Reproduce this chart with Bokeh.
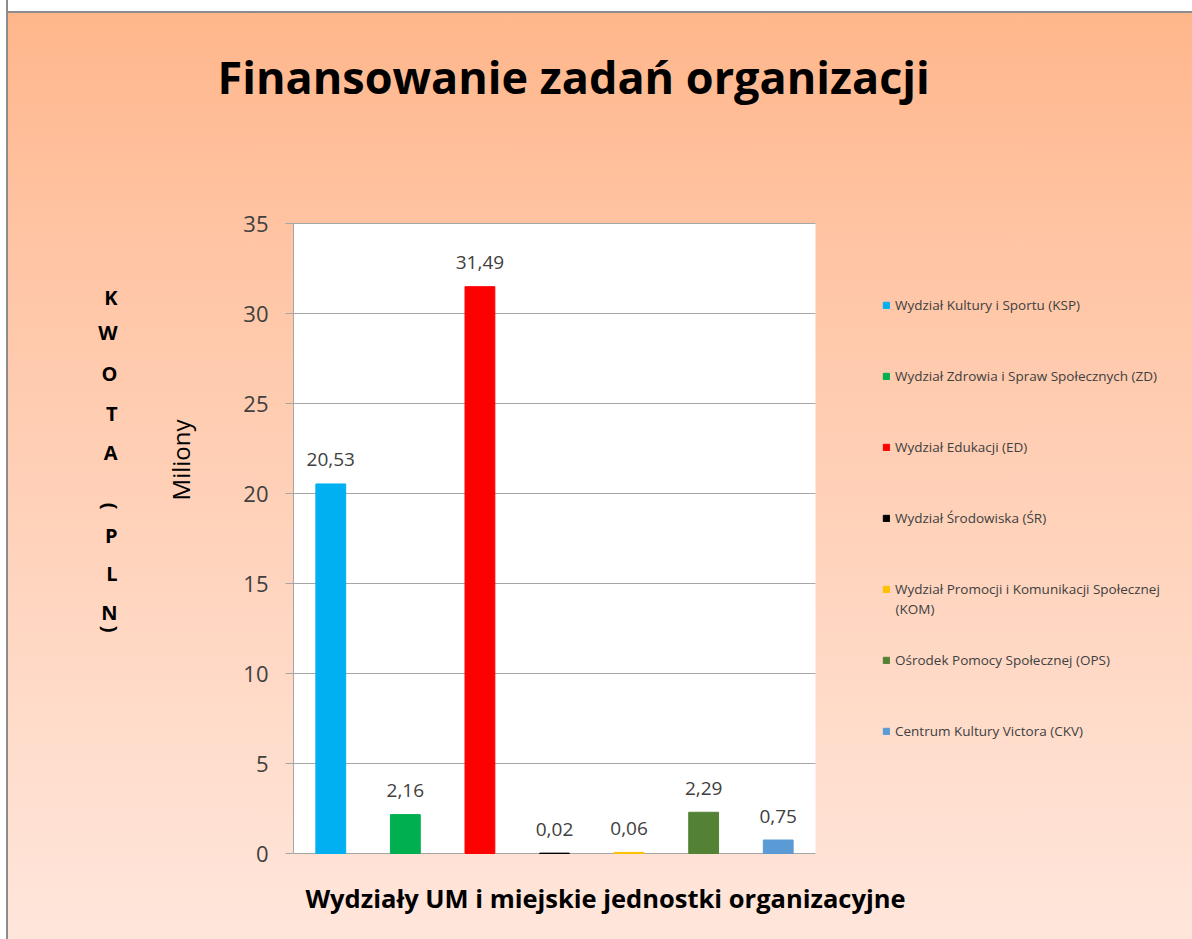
import math
from bokeh.plotting import figure
from bokeh.models import (Range1d, ColumnDataSource, LabelSet, Label, Legend, LegendItem,
                          FixedTicker, LinearAxis)
from bokeh.core.properties import value
from bokeh.embed import file_html
from bokeh.resources import INLINE

# ---------------- data ----------------
categories = [
    "Wydział Kultury i Sportu (KSP)",
    "Wydział Zdrowia i Spraw Społecznych (ZD)",
    "Wydział Edukacji (ED)",
    "Wydział Środowiska (ŚR)",
    "Wydział Promocji i Komunikacji Społecznej (KOM)",
    "Ośrodek Pomocy Społecznej (OPS)",
    "Centrum Kultury Victora (CKV)",
]
values = [20.53, 2.16, 31.49, 0.02, 0.06, 2.29, 0.75]
y_ticks = [0, 5, 10, 15, 20, 25, 30, 35]
bar_colors = ["#00B0F0", "#00B050", "#FF0000", "#000000", "#FFC000", "#548235", "#5B9BD5"]

title_text = "Finansowanie zadań organizacji"
x_title = "Wydziały UM i miejskie jednostki organizacyjne"
y_unit = "Miliony"
# "KWOTA (PLN)" written top-to-bottom (Excel stacked text)
y_title_letters = ["K", "W", "O", "T", "A", "P", "L", "N"]
y_title_brackets = ["(", ")"]

# ---------------- layout ----------------
W, H = 1192, 939
FL = 293                      # left edge of the frame (y axis)
FT = 150                      # top edge of the frame (below the title panel)
PL, PR, PT, PB = 293, 815, 223, 853   # plot area in pixels
N = len(categories)
YMAX = y_ticks[-1]
XU = (PR - PL) / N            # pixels per category
YU = (PB - PT) / YMAX         # pixels per million


def sx(px):
    return (px - FL) / XU


def sy(py):
    return (PB - py) / YU


FONT = "Open Sans"
TXT = "#404040"
GRID = "#A6A6A6"

p = figure(width=W, height=H, title=title_text, x_axis_location=None,
           x_range=Range1d(0, sx(W)), y_range=Range1d(sy(H), sy(FT)),
           output_backend="svg", toolbar_location=None,
           min_border_left=FL, min_border_right=0, min_border_top=0, min_border_bottom=0)
p.border_fill_color = None
p.background_fill_color = None
p.outline_line_color = None
p.grid.visible = False
p.styles = {
    "background": ("linear-gradient(to right, #ffffff 0px, #ffffff 6px, #8c8c8c 6px, "
                   "#8c8c8c 8px, rgba(0,0,0,0) 8px), "
                   "linear-gradient(to bottom, #ffffff 0px, #ffffff 11px, #8c8c8c 11px, "
                   "#8c8c8c 13px, #FFB68B 13px, #FFC4A3 25%, #FFE6DB 100%)"),
}
# pixel-space range for the texts placed left of the frame
p.extra_y_ranges = {"px": Range1d(H, FT)}

# chart title
p.title.align = "left"
p.title.offset = -76
p.title.standoff = 87
p.title.text_font = FONT
p.title.text_font_size = "45px"
p.title.text_font_style = "bold"
p.title.text_color = "#000000"

# white plot area, grid lines, bars
p.quad(left=[0], right=[N], bottom=[0], top=[YMAX], fill_color="white", line_color=None)
p.segment(x0=[0] * len(y_ticks), x1=[N] * len(y_ticks), y0=y_ticks, y1=y_ticks,
          line_color=GRID, line_width=1)

src = ColumnDataSource(dict(
    x=[i + 0.5 for i in range(N)],
    top=values,
    color=bar_colors,
    label=[f"{v:.2f}".replace(".", ",") for v in values],
))
bars = p.vbar(x="x", top="top", width=0.4, fill_color="color", line_color="color",
              line_width=1, source=src)

# y axis
p.yaxis.ticker = FixedTicker(ticks=y_ticks)
p.yaxis.bounds = (0, YMAX)
p.yaxis.axis_line_color = GRID
p.yaxis.major_tick_line_color = GRID
p.yaxis.major_tick_out = 8
p.yaxis.major_tick_in = 0
p.yaxis.minor_tick_line_color = None
p.yaxis.major_label_text_font = FONT
p.yaxis.major_label_text_font_size = "22px"
p.yaxis.major_label_text_color = TXT
p.yaxis.major_label_standoff = 17

# data labels
p.add_layout(LabelSet(x="x", y="top", text="label", source=src, y_offset=24,
                      text_align="center", text_baseline="middle",
                      text_font=value(FONT), text_font_size="19px", text_color=TXT))

# x axis title
p.add_layout(Label(x=sx(605), y=sy(897), text=x_title, text_align="center",
                   text_baseline="middle", text_font=FONT, text_font_size="25.5px",
                   text_font_style="bold", text_color="#000000"))


def text_axis(ticks, labels, standoff, size, bold=False, orientation="horizontal"):
    ax = LinearAxis(y_range_name="px", ticker=FixedTicker(ticks=ticks),
                    major_label_overrides=dict(zip(ticks, labels)),
                    major_label_orientation=orientation,
                    axis_line_color=None, major_tick_line_color=None,
                    minor_tick_line_color=None, major_tick_out=0, major_tick_in=0,
                    major_label_standoff=standoff,
                    major_label_text_font=FONT, major_label_text_font_size=size,
                    major_label_text_font_style="bold" if bold else "normal",
                    major_label_text_color="#000000")
    p.add_layout(ax, "left")
    return ax


# units label ("Miliony"), stacked "KWOTA (PLN)" letters, then its rotated brackets
text_axis([419], [y_unit], 60, "24px", orientation=math.pi / 2)
letter_y = [297, 332, 373, 413, 452, 535, 573, 612]
text_axis(letter_y, y_title_letters, 27, "20px", bold=True)
bracket_y = [509, 632]
text_axis(bracket_y, y_title_brackets, -15, "20px", bold=True, orientation=-math.pi / 2)

# legend
legend_labels = [c.replace(" (KOM)", "") for c in categories]
items = [LegendItem(label=lab, renderers=[bars], index=i) for i, lab in enumerate(legend_labels)]
ITEM_H, SPACING = 20, 51
leg_top = 305 - ITEM_H / 2
leg_h = N * ITEM_H + (N - 1) * SPACING
legend = Legend(items=items, location=(882 - FL, H - (leg_top + leg_h)),
                glyph_width=8, glyph_height=8, label_height=ITEM_H, spacing=SPACING,
                label_standoff=5, padding=0, margin=0,
                border_line_color=None, background_fill_alpha=0,
                label_text_font=FONT, label_text_font_size="13.5px", label_text_color=TXT)
p.add_layout(legend)
kom_idx = [i for i, c in enumerate(categories) if "(KOM)" in c][0]
p.add_layout(Label(x=sx(895), y=sy(leg_top + kom_idx * (ITEM_H + SPACING) + ITEM_H / 2 + 19),
                   text="(KOM)", text_align="left", text_baseline="middle",
                   text_font=FONT, text_font_size="13.5px", text_color=TXT))

open("out.html", "w").write(file_html(p, INLINE))
